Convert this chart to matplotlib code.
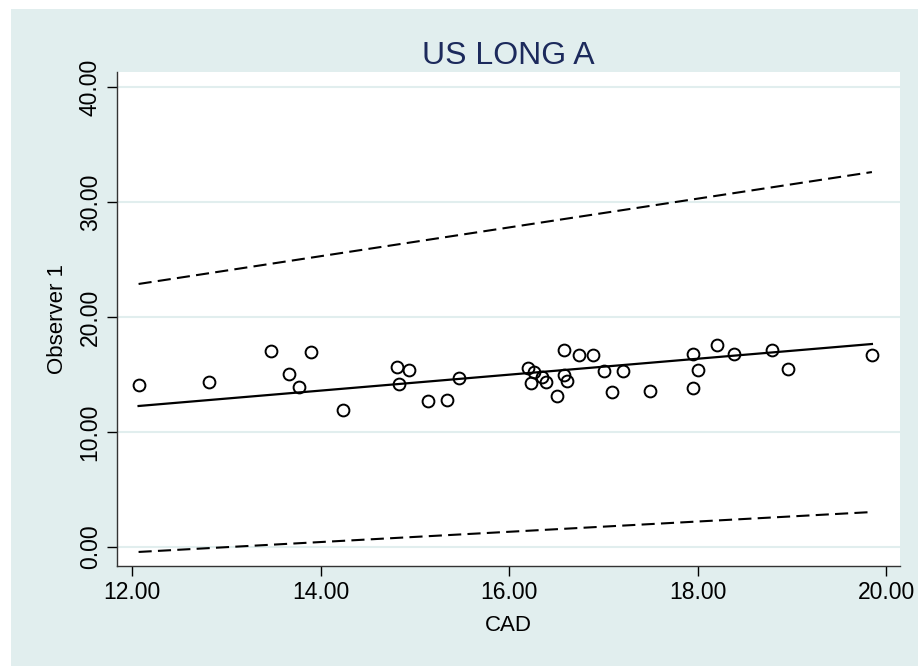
import matplotlib.pyplot as plt
from matplotlib.patches import Rectangle
from matplotlib.ticker import FormatStrFormatter

plt.rcParams['font.family'] = ['Liberation Sans', 'DejaVu Sans']

# CAD vs Observer 1 readings
cad = [12.07, 12.82, 13.47, 13.67, 13.77, 13.90, 14.24, 14.81, 14.94, 14.83,
       15.14, 15.34, 15.47, 16.20, 16.26, 16.23, 16.35, 16.39, 16.51, 16.58,
       16.58, 16.61, 16.74, 16.89, 17.01, 17.21, 17.09, 17.50, 17.95, 18.00,
       17.95, 18.21, 18.39, 18.79, 18.96, 19.85]
obs1 = [14.09, 14.35, 17.04, 15.04, 13.91, 16.96, 11.91, 15.65, 15.39, 14.17,
        12.70, 12.78, 14.70, 15.57, 15.22, 14.26, 14.78, 14.35, 13.13, 17.13,
        14.96, 14.43, 16.70, 16.70, 15.30, 15.30, 13.48, 13.57, 16.78, 15.39,
        13.83, 17.57, 16.78, 17.13, 15.48, 16.70]

# fitted line and limits at the ends of the CAD range
line_x = [12.07, 19.85]
fit_y = [12.26, 17.65]
upper_y = [22.87, 32.60]
lower_y = [-0.43, 3.04]

xticks = [12, 14, 16, 18, 20]
yticks = [0, 10, 20, 30, 40]

bg = '#e1eeee'

fig = plt.figure(figsize=(9.18, 6.66), dpi=100)
fig.add_artist(Rectangle((11 / 918, 0), 1 - 11 / 918, 1 - 9 / 666,
                         transform=fig.transFigure, facecolor=bg,
                         edgecolor='none', zorder=-10))

ax = fig.add_axes([117 / 918, 1 - 566 / 666, (900 - 117) / 918, (566 - 72) / 666])
ax.set_zorder(1)
ax.set_facecolor('white')

for y in yticks:
    ax.axhline(y, color=bg, lw=1.5, zorder=0)

ax.plot(cad, obs1, 'o', ms=8.5, mfc='none', mec='black', mew=1.4, zorder=3)
ax.plot(line_x, fit_y, color='black', lw=1.6, zorder=2)
ax.plot(line_x, upper_y, color='black', lw=1.5, dashes=(6.3, 3), zorder=2)
ax.plot(line_x, lower_y, color='black', lw=1.5, dashes=(6.3, 3), zorder=2)

ax.set_xlim(11.841, 20.148)
ax.set_ylim(-1.652, 41.30)
ax.set_xticks(xticks)
ax.set_yticks(yticks)
ax.xaxis.set_major_formatter(FormatStrFormatter('%.2f'))
ax.yaxis.set_major_formatter(FormatStrFormatter('%.2f'))
ax.tick_params(axis='both', length=7, width=1, colors='black', labelsize=16.5, pad=4)
for lab in ax.get_yticklabels():
    lab.set_rotation(90)
    lab.set_va('center')

for s in ['top', 'right']:
    ax.spines[s].set_visible(False)
for s in ['left', 'bottom']:
    ax.spines[s].set_color('#333333')
    ax.spines[s].set_linewidth(1.0)

ax.set_xlabel('CAD', fontsize=16, labelpad=8)
ax.set_ylabel('Observer 1', fontsize=16, labelpad=8)
ax.set_title('US LONG A', fontsize=23, color='#1c2a5c', pad=6)

fig.savefig('out.png', dpi=100)
